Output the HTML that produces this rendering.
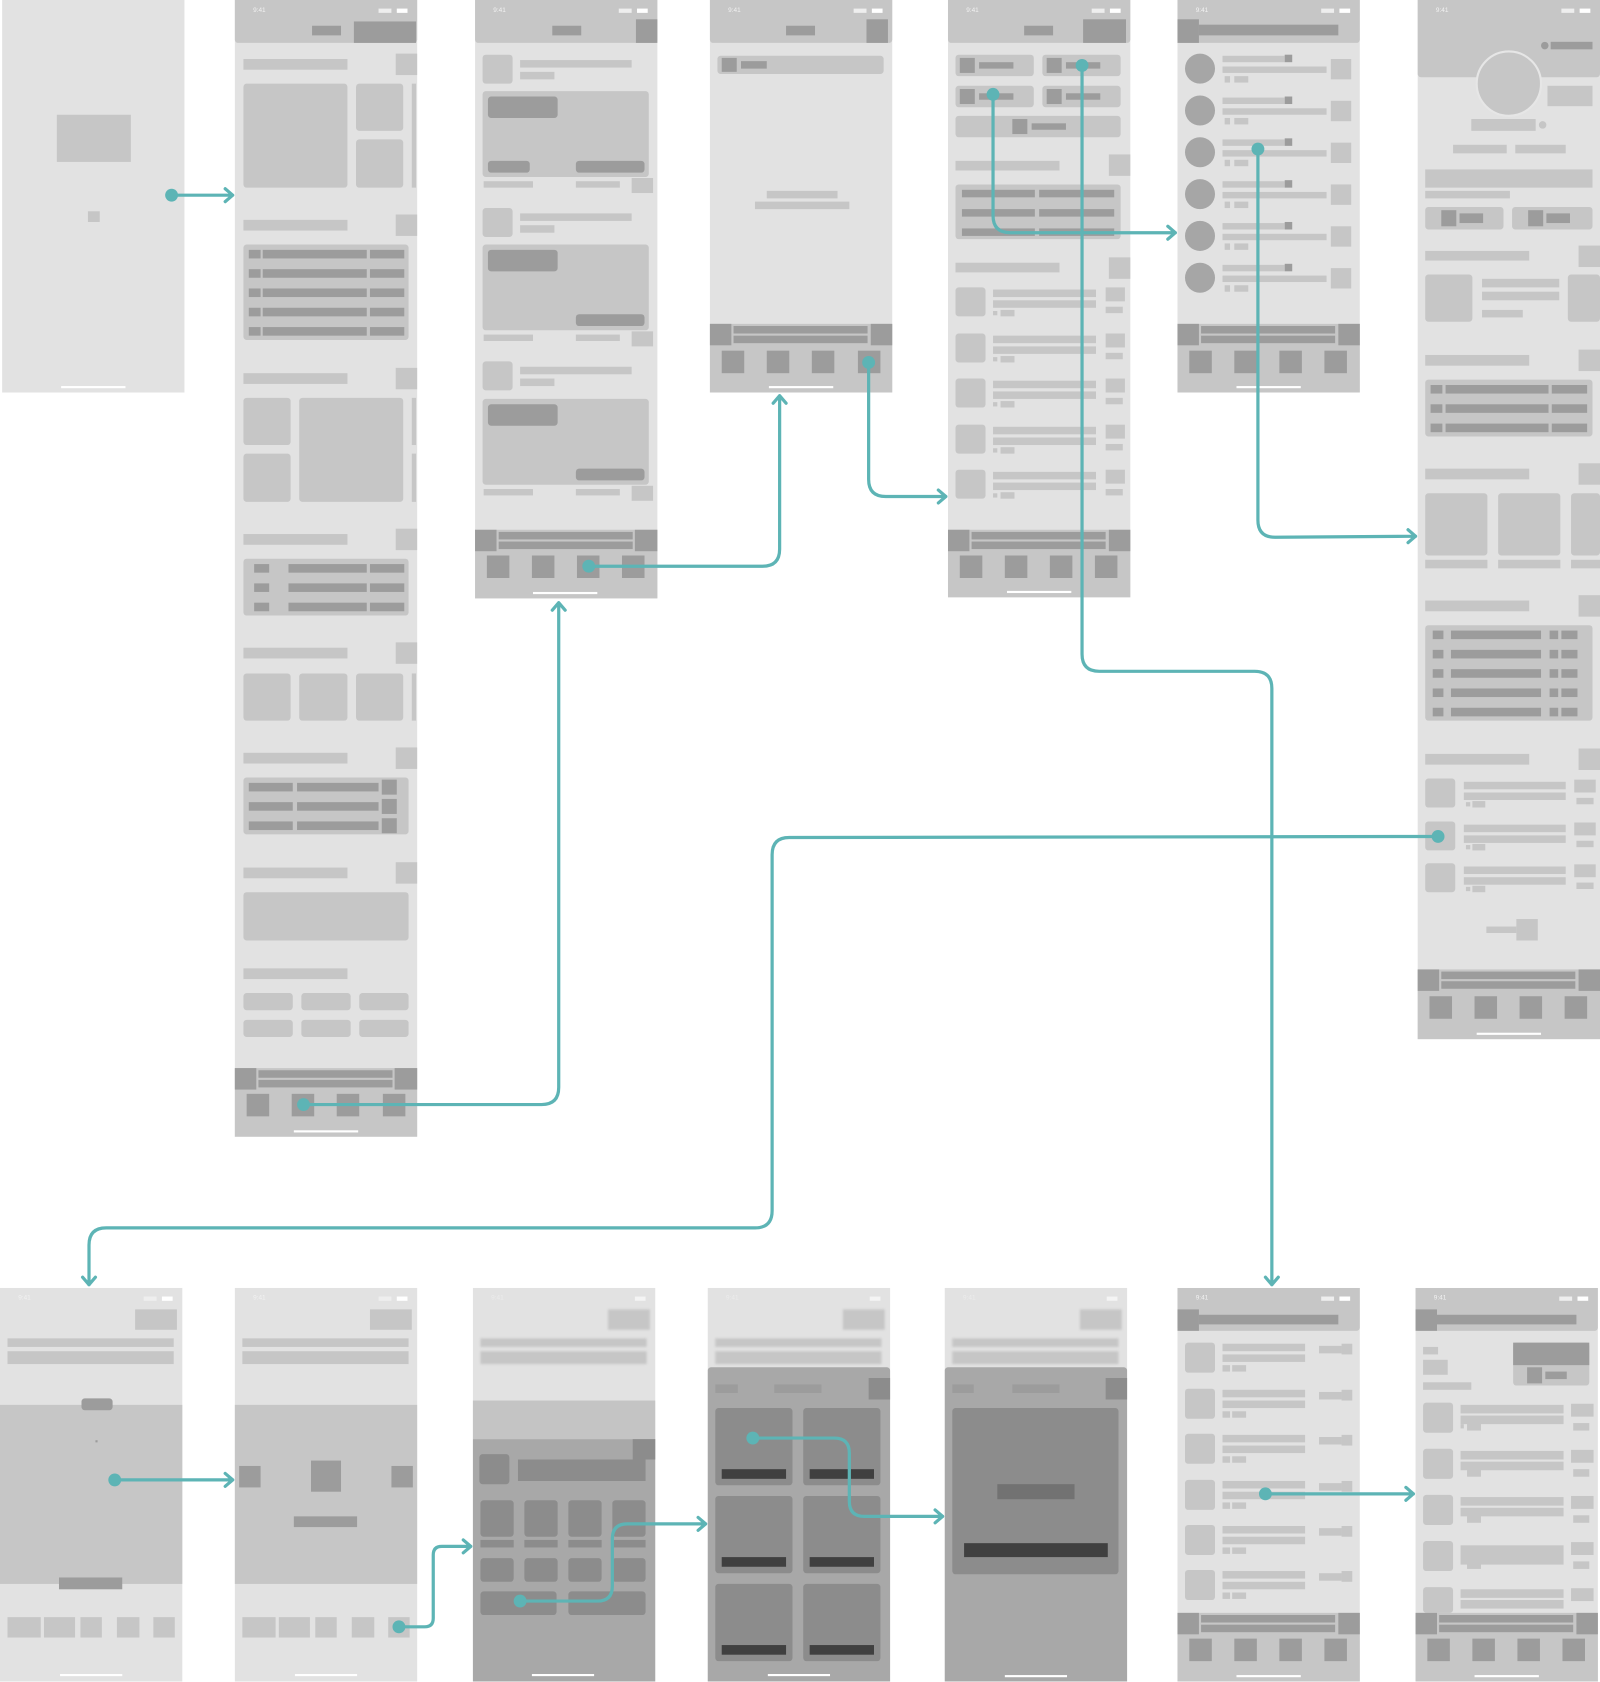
<!DOCTYPE html>
<html><head><meta charset="utf-8"><style>
html,body{margin:0;padding:0;background:#fff}
body{width:1600px;height:1682px;overflow:hidden;position:relative;font-family:"Liberation Sans",sans-serif}
#w{position:absolute;left:0;top:0;width:1492px;height:1568px;transform:scale(1.07239);transform-origin:0 0}
#w i{position:absolute;display:block;font-style:normal}
.L{background:#e2e2e2}.M{background:#c6c6c6}.D{background:#9c9c9c}.K{background:#404040}.T{background:#8c8c8c}.O{background:#a8a8a8}
.r{border-radius:3px}
.st{font-size:6px;color:#f2f2f2;line-height:8px}
.hb{background:#fff;height:2px}
</style></head><body><div id="w">

<!-- Frame 1 splash -->
<i class="L" style="left:2px;top:0;width:170px;height:366px"></i>
<i class="M" style="left:53px;top:107px;width:69px;height:44px"></i>
<i class="M" style="left:82px;top:197px;width:11px;height:10px"></i>
<i class="hb" style="left:57px;top:360px;width:60px"></i>

<!-- Frame 2 home -->
<i class="L" style="left:219px;top:0;width:170px;height:1060px"></i>
<i class="M" style="left:219px;top:0;width:170px;height:40px;border-radius:0 0 3px 3px"></i>
<i class="st" style="left:236px;top:6px">9:41</i>
<i style="left:370px;top:8px;width:10px;height:4px;background:#fff"></i><i style="left:353px;top:8px;width:12px;height:4px;background:#eee"></i>
<i class="D" style="left:291px;top:24px;width:27px;height:9px"></i>
<i class="D" style="left:330px;top:20px;width:58px;height:20px"></i>
<i class="M" style="left:227px;top:55px;width:97px;height:10px"></i><i class="M" style="left:369px;top:50px;width:20px;height:20px"></i>
<i class="M r" style="left:227px;top:78px;width:97px;height:97px"></i>
<i class="M r" style="left:332px;top:78px;width:44px;height:44px"></i>
<i class="M r" style="left:332px;top:130px;width:44px;height:45px"></i>
<i class="M" style="left:384px;top:78px;width:4px;height:97px"></i>
<i class="M" style="left:227px;top:205px;width:97px;height:10px"></i><i class="M" style="left:369px;top:200px;width:20px;height:20px"></i>
<i class="M r" style="left:227px;top:228px;width:154px;height:89px"></i>
<i class="D" style="left:232px;top:233px;width:11px;height:8px"></i><i class="D" style="left:245px;top:233px;width:97px;height:8px"></i><i class="D" style="left:345px;top:233px;width:32px;height:8px"></i>
<i class="D" style="left:232px;top:251px;width:11px;height:8px"></i><i class="D" style="left:245px;top:251px;width:97px;height:8px"></i><i class="D" style="left:345px;top:251px;width:32px;height:8px"></i>
<i class="D" style="left:232px;top:269px;width:11px;height:8px"></i><i class="D" style="left:245px;top:269px;width:97px;height:8px"></i><i class="D" style="left:345px;top:269px;width:32px;height:8px"></i>
<i class="D" style="left:232px;top:287px;width:11px;height:8px"></i><i class="D" style="left:245px;top:287px;width:97px;height:8px"></i><i class="D" style="left:345px;top:287px;width:32px;height:8px"></i>
<i class="D" style="left:232px;top:305px;width:11px;height:8px"></i><i class="D" style="left:245px;top:305px;width:97px;height:8px"></i><i class="D" style="left:345px;top:305px;width:32px;height:8px"></i>
<i class="M" style="left:227px;top:348px;width:97px;height:10px"></i><i class="M" style="left:369px;top:343px;width:20px;height:20px"></i>
<i class="M r" style="left:227px;top:371px;width:44px;height:44px"></i>
<i class="M r" style="left:227px;top:423px;width:44px;height:45px"></i>
<i class="M r" style="left:279px;top:371px;width:97px;height:97px"></i>
<i class="M" style="left:384px;top:371px;width:4px;height:44px"></i><i class="M" style="left:384px;top:423px;width:4px;height:45px"></i>
<i class="M" style="left:227px;top:498px;width:97px;height:10px"></i><i class="M" style="left:369px;top:493px;width:20px;height:20px"></i>
<i class="M r" style="left:227px;top:521px;width:154px;height:53px"></i>
<i class="D" style="left:237px;top:526px;width:14px;height:8px"></i><i class="D" style="left:269px;top:526px;width:73px;height:8px"></i><i class="D" style="left:345px;top:526px;width:32px;height:8px"></i>
<i class="D" style="left:237px;top:544px;width:14px;height:8px"></i><i class="D" style="left:269px;top:544px;width:73px;height:8px"></i><i class="D" style="left:345px;top:544px;width:32px;height:8px"></i>
<i class="D" style="left:237px;top:562px;width:14px;height:8px"></i><i class="D" style="left:269px;top:562px;width:73px;height:8px"></i><i class="D" style="left:345px;top:562px;width:32px;height:8px"></i>
<i class="M" style="left:227px;top:604px;width:97px;height:10px"></i><i class="M" style="left:369px;top:599px;width:20px;height:20px"></i>
<i class="M r" style="left:227px;top:628px;width:44px;height:44px"></i><i class="M r" style="left:279px;top:628px;width:45px;height:44px"></i><i class="M r" style="left:332px;top:628px;width:44px;height:44px"></i><i class="M" style="left:384px;top:628px;width:4px;height:44px"></i>
<i class="M" style="left:227px;top:702px;width:97px;height:10px"></i><i class="M" style="left:369px;top:697px;width:20px;height:20px"></i>
<i class="M r" style="left:227px;top:725px;width:154px;height:53px"></i>
<i class="D" style="left:232px;top:730px;width:41px;height:8px"></i><i class="D" style="left:277px;top:730px;width:76px;height:8px"></i><i class="D" style="left:356px;top:727px;width:14px;height:14px"></i>
<i class="D" style="left:232px;top:748px;width:41px;height:8px"></i><i class="D" style="left:277px;top:748px;width:76px;height:8px"></i><i class="D" style="left:356px;top:745px;width:14px;height:14px"></i>
<i class="D" style="left:232px;top:766px;width:41px;height:8px"></i><i class="D" style="left:277px;top:766px;width:76px;height:8px"></i><i class="D" style="left:356px;top:763px;width:14px;height:14px"></i>
<i class="M" style="left:227px;top:809px;width:97px;height:10px"></i><i class="M" style="left:369px;top:804px;width:20px;height:20px"></i>
<i class="M r" style="left:227px;top:832px;width:154px;height:45px"></i>
<i class="M" style="left:227px;top:903px;width:97px;height:10px"></i>
<i class="M r" style="left:227px;top:926px;width:46px;height:16px"></i><i class="M r" style="left:281px;top:926px;width:46px;height:16px"></i><i class="M r" style="left:335px;top:926px;width:46px;height:16px"></i>
<i class="M r" style="left:227px;top:951px;width:46px;height:16px"></i><i class="M r" style="left:281px;top:951px;width:46px;height:16px"></i><i class="M r" style="left:335px;top:951px;width:46px;height:16px"></i>
<i class="M" style="left:219px;top:996px;width:170px;height:64px"></i>
<i class="D" style="left:219px;top:996px;width:20px;height:20px"></i><i class="D" style="left:368px;top:996px;width:21px;height:20px"></i>
<i class="D" style="left:241px;top:998px;width:125px;height:7px"></i><i class="D" style="left:241px;top:1007px;width:125px;height:7px"></i>
<i class="D" style="left:230px;top:1020px;width:21px;height:21px"></i><i class="D" style="left:272px;top:1020px;width:21px;height:21px"></i><i class="D" style="left:314px;top:1020px;width:21px;height:21px"></i><i class="D" style="left:357px;top:1020px;width:21px;height:21px"></i>
<i class="hb" style="left:274px;top:1054px;width:60px"></i>

<!-- Frame 3 feed -->
<i class="L" style="left:443px;top:0;width:170px;height:558px"></i>
<i class="M" style="left:443px;top:0;width:170px;height:40px;border-radius:0 0 3px 3px"></i>
<i class="st" style="left:460px;top:6px">9:41</i>
<i style="left:594px;top:8px;width:10px;height:4px;background:#fff"></i><i style="left:577px;top:8px;width:12px;height:4px;background:#eee"></i>
<i class="D" style="left:515px;top:24px;width:27px;height:9px"></i><i class="D" style="left:593px;top:18px;width:20px;height:22px"></i>
<!-- card 1 -->
<i class="M r" style="left:450px;top:51px;width:28px;height:27px"></i><i class="M" style="left:485px;top:56px;width:104px;height:7px"></i><i class="M" style="left:485px;top:67px;width:32px;height:7px"></i>
<i class="M r" style="left:450px;top:85px;width:155px;height:80px"></i><i class="D r" style="left:455px;top:90px;width:65px;height:20px"></i>
<i class="D r" style="left:455px;top:150px;width:39px;height:11px"></i><i class="D r" style="left:537px;top:150px;width:64px;height:11px"></i>
<i class="M" style="left:451px;top:169px;width:46px;height:6px"></i><i class="M" style="left:537px;top:169px;width:41px;height:6px"></i><i class="M" style="left:589px;top:166px;width:20px;height:14px"></i>
<!-- card 2 -->
<i class="M r" style="left:450px;top:194px;width:28px;height:27px"></i><i class="M" style="left:485px;top:199px;width:104px;height:7px"></i><i class="M" style="left:485px;top:210px;width:32px;height:7px"></i>
<i class="M r" style="left:450px;top:228px;width:155px;height:80px"></i><i class="D r" style="left:455px;top:233px;width:65px;height:20px"></i>
<i class="D r" style="left:537px;top:293px;width:64px;height:11px"></i>
<i class="M" style="left:451px;top:312px;width:46px;height:6px"></i><i class="M" style="left:537px;top:312px;width:41px;height:6px"></i><i class="M" style="left:589px;top:309px;width:20px;height:14px"></i>
<!-- card 3 -->
<i class="M r" style="left:450px;top:337px;width:28px;height:27px"></i><i class="M" style="left:485px;top:342px;width:104px;height:7px"></i><i class="M" style="left:485px;top:353px;width:32px;height:7px"></i>
<i class="M r" style="left:450px;top:372px;width:155px;height:80px"></i><i class="D r" style="left:455px;top:377px;width:65px;height:20px"></i>
<i class="D r" style="left:537px;top:437px;width:64px;height:11px"></i>
<i class="M" style="left:451px;top:456px;width:46px;height:6px"></i><i class="M" style="left:537px;top:456px;width:41px;height:6px"></i><i class="M" style="left:589px;top:453px;width:20px;height:14px"></i>
<i class="M" style="left:443px;top:494px;width:170px;height:64px"></i>
<i class="D" style="left:443px;top:494px;width:20px;height:20px"></i><i class="D" style="left:592px;top:494px;width:21px;height:20px"></i>
<i class="D" style="left:465px;top:496px;width:125px;height:7px"></i><i class="D" style="left:465px;top:505px;width:125px;height:7px"></i>
<i class="D" style="left:454px;top:518px;width:21px;height:21px"></i><i class="D" style="left:496px;top:518px;width:21px;height:21px"></i><i class="D" style="left:538px;top:518px;width:21px;height:21px"></i><i class="D" style="left:580px;top:518px;width:21px;height:21px"></i>
<i class="hb" style="left:497px;top:552px;width:60px"></i>

<!-- Frame 4 search -->
<i class="L" style="left:662px;top:0;width:170px;height:366px"></i>
<i class="M" style="left:662px;top:0;width:170px;height:40px;border-radius:0 0 3px 3px"></i>
<i class="st" style="left:679px;top:6px">9:41</i>
<i style="left:813px;top:8px;width:10px;height:4px;background:#fff"></i><i style="left:796px;top:8px;width:12px;height:4px;background:#eee"></i>
<i class="D" style="left:733px;top:24px;width:27px;height:9px"></i><i class="D" style="left:808px;top:18px;width:20px;height:22px"></i>
<i class="M r" style="left:669px;top:52px;width:155px;height:17px"></i><i class="D" style="left:673px;top:54px;width:14px;height:13px"></i><i class="D" style="left:691px;top:57px;width:24px;height:7px"></i>
<i class="M" style="left:715px;top:178px;width:66px;height:7px"></i><i class="M" style="left:704px;top:188px;width:88px;height:7px"></i>
<i class="M" style="left:662px;top:302px;width:170px;height:64px"></i>
<i class="D" style="left:662px;top:302px;width:20px;height:20px"></i><i class="D" style="left:812px;top:302px;width:20px;height:20px"></i>
<i class="D" style="left:684px;top:304px;width:125px;height:7px"></i><i class="D" style="left:684px;top:313px;width:125px;height:7px"></i>
<i class="D" style="left:673px;top:327px;width:21px;height:21px"></i><i class="D" style="left:715px;top:327px;width:21px;height:21px"></i><i class="D" style="left:757px;top:327px;width:21px;height:21px"></i><i class="D" style="left:800px;top:327px;width:21px;height:21px"></i>
<i class="hb" style="left:717px;top:360px;width:60px"></i>

<!-- Frame 5 explore -->
<i class="L" style="left:884px;top:0;width:170px;height:557px"></i>
<i class="M" style="left:884px;top:0;width:170px;height:40px;border-radius:0 0 3px 3px"></i>
<i class="st" style="left:901px;top:6px">9:41</i>
<i style="left:1035px;top:8px;width:10px;height:4px;background:#fff"></i><i style="left:1018px;top:8px;width:12px;height:4px;background:#eee"></i>
<i class="D" style="left:955px;top:24px;width:27px;height:9px"></i><i class="D" style="left:1010px;top:18px;width:40px;height:22px"></i>
<i class="M r" style="left:891px;top:51px;width:73px;height:20px"></i><i class="D" style="left:895px;top:54px;width:14px;height:14px"></i><i class="D" style="left:913px;top:58px;width:32px;height:6px"></i>
<i class="M r" style="left:972px;top:51px;width:73px;height:20px"></i><i class="D" style="left:976px;top:54px;width:14px;height:14px"></i><i class="D" style="left:994px;top:58px;width:32px;height:6px"></i>
<i class="M r" style="left:891px;top:80px;width:73px;height:20px"></i><i class="D" style="left:895px;top:83px;width:14px;height:14px"></i><i class="D" style="left:913px;top:87px;width:32px;height:6px"></i>
<i class="M r" style="left:972px;top:80px;width:73px;height:20px"></i><i class="D" style="left:976px;top:83px;width:14px;height:14px"></i><i class="D" style="left:994px;top:87px;width:32px;height:6px"></i>
<i class="M r" style="left:891px;top:108px;width:154px;height:20px"></i><i class="D" style="left:944px;top:111px;width:14px;height:14px"></i><i class="D" style="left:962px;top:115px;width:32px;height:6px"></i>
<i class="M" style="left:891px;top:150px;width:97px;height:9px"></i><i class="M" style="left:1034px;top:144px;width:20px;height:20px"></i>
<i class="M r" style="left:891px;top:172px;width:154px;height:51px"></i>
<i class="D" style="left:897px;top:177px;width:68px;height:7px"></i><i class="D" style="left:969px;top:177px;width:70px;height:7px"></i>
<i class="D" style="left:897px;top:195px;width:68px;height:7px"></i><i class="D" style="left:969px;top:195px;width:70px;height:7px"></i>
<i class="D" style="left:897px;top:213px;width:68px;height:7px"></i><i class="D" style="left:969px;top:213px;width:70px;height:7px"></i>
<i class="M" style="left:891px;top:245px;width:97px;height:9px"></i><i class="M" style="left:1034px;top:240px;width:20px;height:20px"></i>
<i class="M r" style="left:891px;top:268px;width:28px;height:27px"></i><i class="M" style="left:926px;top:270px;width:96px;height:7px"></i><i class="M" style="left:926px;top:280px;width:96px;height:7px"></i><i class="M" style="left:926px;top:290px;width:4px;height:4px"></i><i class="M" style="left:933px;top:289px;width:13px;height:6px"></i><i class="M" style="left:1031px;top:268px;width:18px;height:13px"></i><i class="M" style="left:1031px;top:286px;width:16px;height:6px"></i>
<i class="M r" style="left:891px;top:311px;width:28px;height:27px"></i><i class="M" style="left:926px;top:313px;width:96px;height:7px"></i><i class="M" style="left:926px;top:323px;width:96px;height:7px"></i><i class="M" style="left:926px;top:333px;width:4px;height:4px"></i><i class="M" style="left:933px;top:332px;width:13px;height:6px"></i><i class="M" style="left:1031px;top:311px;width:18px;height:13px"></i><i class="M" style="left:1031px;top:329px;width:16px;height:6px"></i>
<i class="M r" style="left:891px;top:353px;width:28px;height:27px"></i><i class="M" style="left:926px;top:355px;width:96px;height:7px"></i><i class="M" style="left:926px;top:365px;width:96px;height:7px"></i><i class="M" style="left:926px;top:375px;width:4px;height:4px"></i><i class="M" style="left:933px;top:374px;width:13px;height:6px"></i><i class="M" style="left:1031px;top:353px;width:18px;height:13px"></i><i class="M" style="left:1031px;top:371px;width:16px;height:6px"></i>
<i class="M r" style="left:891px;top:396px;width:28px;height:27px"></i><i class="M" style="left:926px;top:398px;width:96px;height:7px"></i><i class="M" style="left:926px;top:408px;width:96px;height:7px"></i><i class="M" style="left:926px;top:418px;width:4px;height:4px"></i><i class="M" style="left:933px;top:417px;width:13px;height:6px"></i><i class="M" style="left:1031px;top:396px;width:18px;height:13px"></i><i class="M" style="left:1031px;top:414px;width:16px;height:6px"></i>
<i class="M r" style="left:891px;top:438px;width:28px;height:27px"></i><i class="M" style="left:926px;top:440px;width:96px;height:7px"></i><i class="M" style="left:926px;top:450px;width:96px;height:7px"></i><i class="M" style="left:926px;top:460px;width:4px;height:4px"></i><i class="M" style="left:933px;top:459px;width:13px;height:6px"></i><i class="M" style="left:1031px;top:438px;width:18px;height:13px"></i><i class="M" style="left:1031px;top:456px;width:16px;height:6px"></i>
<i class="M" style="left:884px;top:494px;width:170px;height:63px"></i>
<i class="D" style="left:884px;top:494px;width:20px;height:20px"></i><i class="D" style="left:1034px;top:494px;width:20px;height:20px"></i>
<i class="D" style="left:906px;top:496px;width:125px;height:7px"></i><i class="D" style="left:906px;top:505px;width:125px;height:7px"></i>
<i class="D" style="left:895px;top:518px;width:21px;height:21px"></i><i class="D" style="left:937px;top:518px;width:21px;height:21px"></i><i class="D" style="left:979px;top:518px;width:21px;height:21px"></i><i class="D" style="left:1021px;top:518px;width:21px;height:21px"></i>
<i class="hb" style="left:939px;top:551px;width:60px"></i>

<!-- Frame 6 users -->
<i class="L" style="left:1098px;top:0;width:170px;height:366px"></i>
<i class="M" style="left:1098px;top:0;width:170px;height:40px;border-radius:0 0 3px 3px"></i>
<i class="st" style="left:1115px;top:6px">9:41</i>
<i style="left:1249px;top:8px;width:10px;height:4px;background:#fff"></i><i style="left:1232px;top:8px;width:12px;height:4px;background:#eee"></i>
<i class="D" style="left:1098px;top:18px;width:20px;height:22px"></i><i class="D" style="left:1118px;top:23px;width:130px;height:10px"></i>
<i class="D" style="left:1105px;top:50px;width:28px;height:28px;border-radius:50%;background:#a6a6a6"></i>
<i class="D" style="left:1105px;top:89px;width:28px;height:28px;border-radius:50%;background:#a6a6a6"></i>
<i class="D" style="left:1105px;top:128px;width:28px;height:28px;border-radius:50%;background:#a6a6a6"></i>
<i class="D" style="left:1105px;top:167px;width:28px;height:28px;border-radius:50%;background:#a6a6a6"></i>
<i class="D" style="left:1105px;top:206px;width:28px;height:28px;border-radius:50%;background:#a6a6a6"></i>
<i class="D" style="left:1105px;top:245px;width:28px;height:28px;border-radius:50%;background:#a6a6a6"></i>
<i class="M" style="left:1140px;top:52px;width:58px;height:6px"></i><i class="D" style="left:1198px;top:51px;width:7px;height:7px"></i><i class="M" style="left:1140px;top:62px;width:97px;height:6px"></i><i class="M" style="left:1142px;top:71px;width:5px;height:6px"></i><i class="M" style="left:1151px;top:71px;width:13px;height:6px"></i><i class="M" style="left:1241px;top:55px;width:19px;height:19px"></i>
<i class="M" style="left:1140px;top:91px;width:58px;height:6px"></i><i class="D" style="left:1198px;top:90px;width:7px;height:7px"></i><i class="M" style="left:1140px;top:101px;width:97px;height:6px"></i><i class="M" style="left:1142px;top:110px;width:5px;height:6px"></i><i class="M" style="left:1151px;top:110px;width:13px;height:6px"></i><i class="M" style="left:1241px;top:94px;width:19px;height:19px"></i>
<i class="M" style="left:1140px;top:130px;width:58px;height:6px"></i><i class="D" style="left:1198px;top:129px;width:7px;height:7px"></i><i class="M" style="left:1140px;top:140px;width:97px;height:6px"></i><i class="M" style="left:1142px;top:149px;width:5px;height:6px"></i><i class="M" style="left:1151px;top:149px;width:13px;height:6px"></i><i class="M" style="left:1241px;top:133px;width:19px;height:19px"></i>
<i class="M" style="left:1140px;top:169px;width:58px;height:6px"></i><i class="D" style="left:1198px;top:168px;width:7px;height:7px"></i><i class="M" style="left:1140px;top:179px;width:97px;height:6px"></i><i class="M" style="left:1142px;top:188px;width:5px;height:6px"></i><i class="M" style="left:1151px;top:188px;width:13px;height:6px"></i><i class="M" style="left:1241px;top:172px;width:19px;height:19px"></i>
<i class="M" style="left:1140px;top:208px;width:58px;height:6px"></i><i class="D" style="left:1198px;top:207px;width:7px;height:7px"></i><i class="M" style="left:1140px;top:218px;width:97px;height:6px"></i><i class="M" style="left:1142px;top:227px;width:5px;height:6px"></i><i class="M" style="left:1151px;top:227px;width:13px;height:6px"></i><i class="M" style="left:1241px;top:211px;width:19px;height:19px"></i>
<i class="M" style="left:1140px;top:247px;width:58px;height:6px"></i><i class="D" style="left:1198px;top:246px;width:7px;height:7px"></i><i class="M" style="left:1140px;top:257px;width:97px;height:6px"></i><i class="M" style="left:1142px;top:266px;width:5px;height:6px"></i><i class="M" style="left:1151px;top:266px;width:13px;height:6px"></i><i class="M" style="left:1241px;top:250px;width:19px;height:19px"></i>
<i class="M" style="left:1098px;top:302px;width:170px;height:64px"></i>
<i class="D" style="left:1098px;top:302px;width:20px;height:20px"></i><i class="D" style="left:1248px;top:302px;width:20px;height:20px"></i>
<i class="D" style="left:1120px;top:304px;width:125px;height:7px"></i><i class="D" style="left:1120px;top:313px;width:125px;height:7px"></i>
<i class="D" style="left:1109px;top:327px;width:21px;height:21px"></i><i class="D" style="left:1151px;top:327px;width:21px;height:21px"></i><i class="D" style="left:1193px;top:327px;width:21px;height:21px"></i><i class="D" style="left:1235px;top:327px;width:21px;height:21px"></i>
<i class="hb" style="left:1153px;top:360px;width:60px"></i>

<!-- Frame 7 profile -->
<i class="L" style="left:1322px;top:0;width:170px;height:969px"></i>
<i class="M" style="left:1322px;top:0;width:170px;height:72px;border-radius:0 0 3px 3px"></i>
<i class="st" style="left:1339px;top:6px">9:41</i>
<i style="left:1473px;top:8px;width:10px;height:4px;background:#fff"></i><i style="left:1456px;top:8px;width:12px;height:4px;background:#eee"></i>
<i class="D" style="left:1437px;top:39px;width:7px;height:7px;border-radius:50%"></i><i class="D" style="left:1446px;top:39px;width:39px;height:7px"></i>
<i style="left:1376px;top:47px;width:58px;height:58px;border-radius:50%;background:#c6c6c6;border:2px solid #e6e6e6"></i>
<i class="M" style="left:1443px;top:80px;width:42px;height:19px"></i>
<i class="M" style="left:1372px;top:111px;width:60px;height:11px"></i><i class="M" style="left:1435px;top:113px;width:7px;height:7px;border-radius:50%"></i>
<i class="M" style="left:1355px;top:135px;width:50px;height:8px"></i><i class="M" style="left:1413px;top:135px;width:47px;height:8px"></i>
<i class="M" style="left:1329px;top:158px;width:156px;height:17px"></i><i class="M" style="left:1329px;top:178px;width:79px;height:7px"></i>
<i class="M r" style="left:1329px;top:193px;width:73px;height:21px"></i><i class="D" style="left:1344px;top:196px;width:14px;height:15px"></i><i class="D" style="left:1361px;top:199px;width:22px;height:9px"></i>
<i class="M r" style="left:1410px;top:193px;width:75px;height:21px"></i><i class="D" style="left:1425px;top:196px;width:14px;height:15px"></i><i class="D" style="left:1442px;top:199px;width:22px;height:9px"></i>
<i class="M" style="left:1329px;top:234px;width:97px;height:9px"></i><i class="M" style="left:1472px;top:229px;width:20px;height:20px"></i>
<i class="M r" style="left:1329px;top:256px;width:44px;height:44px"></i><i class="M" style="left:1382px;top:260px;width:72px;height:8px"></i><i class="M" style="left:1382px;top:272px;width:72px;height:8px"></i><i class="M" style="left:1382px;top:289px;width:38px;height:7px"></i><i class="M r" style="left:1462px;top:256px;width:30px;height:44px"></i>
<i class="M" style="left:1329px;top:331px;width:97px;height:10px"></i><i class="M" style="left:1472px;top:326px;width:20px;height:20px"></i>
<i class="M r" style="left:1329px;top:354px;width:156px;height:53px"></i>
<i class="D" style="left:1334px;top:359px;width:11px;height:8px"></i><i class="D" style="left:1348px;top:359px;width:96px;height:8px"></i><i class="D" style="left:1447px;top:359px;width:33px;height:8px"></i>
<i class="D" style="left:1334px;top:377px;width:11px;height:8px"></i><i class="D" style="left:1348px;top:377px;width:96px;height:8px"></i><i class="D" style="left:1447px;top:377px;width:33px;height:8px"></i>
<i class="D" style="left:1334px;top:395px;width:11px;height:8px"></i><i class="D" style="left:1348px;top:395px;width:96px;height:8px"></i><i class="D" style="left:1447px;top:395px;width:33px;height:8px"></i>
<i class="M" style="left:1329px;top:437px;width:97px;height:10px"></i><i class="M" style="left:1472px;top:432px;width:20px;height:20px"></i>
<i class="M r" style="left:1329px;top:460px;width:58px;height:58px"></i><i class="M r" style="left:1397px;top:460px;width:58px;height:58px"></i><i class="M r" style="left:1465px;top:460px;width:27px;height:58px"></i>
<i class="M" style="left:1329px;top:522px;width:58px;height:8px"></i><i class="M" style="left:1397px;top:522px;width:58px;height:8px"></i><i class="M" style="left:1465px;top:522px;width:27px;height:8px"></i>
<i class="M" style="left:1329px;top:560px;width:97px;height:10px"></i><i class="M" style="left:1472px;top:555px;width:20px;height:20px"></i>
<i class="M r" style="left:1329px;top:583px;width:156px;height:89px"></i>
<i class="D" style="left:1336px;top:588px;width:10px;height:8px"></i><i class="D" style="left:1353px;top:588px;width:84px;height:8px"></i><i class="D" style="left:1445px;top:588px;width:8px;height:8px"></i><i class="D" style="left:1456px;top:588px;width:15px;height:8px"></i>
<i class="D" style="left:1336px;top:606px;width:10px;height:8px"></i><i class="D" style="left:1353px;top:606px;width:84px;height:8px"></i><i class="D" style="left:1445px;top:606px;width:8px;height:8px"></i><i class="D" style="left:1456px;top:606px;width:15px;height:8px"></i>
<i class="D" style="left:1336px;top:624px;width:10px;height:8px"></i><i class="D" style="left:1353px;top:624px;width:84px;height:8px"></i><i class="D" style="left:1445px;top:624px;width:8px;height:8px"></i><i class="D" style="left:1456px;top:624px;width:15px;height:8px"></i>
<i class="D" style="left:1336px;top:642px;width:10px;height:8px"></i><i class="D" style="left:1353px;top:642px;width:84px;height:8px"></i><i class="D" style="left:1445px;top:642px;width:8px;height:8px"></i><i class="D" style="left:1456px;top:642px;width:15px;height:8px"></i>
<i class="D" style="left:1336px;top:660px;width:10px;height:8px"></i><i class="D" style="left:1353px;top:660px;width:84px;height:8px"></i><i class="D" style="left:1445px;top:660px;width:8px;height:8px"></i><i class="D" style="left:1456px;top:660px;width:15px;height:8px"></i>
<i class="M" style="left:1329px;top:703px;width:97px;height:10px"></i><i class="M" style="left:1472px;top:698px;width:20px;height:20px"></i>
<i class="M r" style="left:1329px;top:726px;width:28px;height:27px"></i><i class="M" style="left:1365px;top:729px;width:95px;height:7px"></i><i class="M" style="left:1365px;top:739px;width:95px;height:7px"></i><i class="M" style="left:1367px;top:748px;width:4px;height:4px"></i><i class="M" style="left:1373px;top:747px;width:12px;height:6px"></i><i class="M" style="left:1468px;top:727px;width:20px;height:12px"></i><i class="M" style="left:1470px;top:744px;width:16px;height:6px"></i>
<i class="M r" style="left:1329px;top:766px;width:28px;height:27px"></i><i class="M" style="left:1365px;top:769px;width:95px;height:7px"></i><i class="M" style="left:1365px;top:779px;width:95px;height:7px"></i><i class="M" style="left:1367px;top:788px;width:4px;height:4px"></i><i class="M" style="left:1373px;top:787px;width:12px;height:6px"></i><i class="M" style="left:1468px;top:767px;width:20px;height:12px"></i><i class="M" style="left:1470px;top:784px;width:16px;height:6px"></i>
<i class="M r" style="left:1329px;top:805px;width:28px;height:27px"></i><i class="M" style="left:1365px;top:808px;width:95px;height:7px"></i><i class="M" style="left:1365px;top:818px;width:95px;height:7px"></i><i class="M" style="left:1367px;top:827px;width:4px;height:4px"></i><i class="M" style="left:1373px;top:826px;width:12px;height:6px"></i><i class="M" style="left:1468px;top:806px;width:20px;height:12px"></i><i class="M" style="left:1470px;top:823px;width:16px;height:6px"></i>
<i class="M" style="left:1386px;top:864px;width:28px;height:6px"></i><i class="M" style="left:1414px;top:857px;width:20px;height:20px"></i>
<i class="M" style="left:1322px;top:904px;width:170px;height:65px"></i>
<i class="D" style="left:1322px;top:904px;width:20px;height:20px"></i><i class="D" style="left:1472px;top:904px;width:20px;height:20px"></i>
<i class="D" style="left:1344px;top:906px;width:125px;height:7px"></i><i class="D" style="left:1344px;top:915px;width:125px;height:7px"></i>
<i class="D" style="left:1333px;top:929px;width:21px;height:21px"></i><i class="D" style="left:1375px;top:929px;width:21px;height:21px"></i><i class="D" style="left:1417px;top:929px;width:21px;height:21px"></i><i class="D" style="left:1459px;top:929px;width:21px;height:21px"></i>
<i class="hb" style="left:1377px;top:963px;width:60px"></i>

<!-- Row 2 Frame A -->
<i class="L" style="left:0;top:1201px;width:170px;height:367px"></i>
<i class="st" style="left:17px;top:1207px">9:41</i><i style="left:151px;top:1209px;width:10px;height:4px;background:#fff"></i><i style="left:134px;top:1209px;width:12px;height:4px;background:#eee"></i>
<i class="M" style="left:126px;top:1221px;width:39px;height:19px"></i>
<i class="M" style="left:7px;top:1248px;width:155px;height:8px"></i><i class="M" style="left:7px;top:1260px;width:155px;height:12px"></i>
<i class="M" style="left:0;top:1310px;width:170px;height:167px"></i>
<i class="D r" style="left:76px;top:1304px;width:29px;height:11px"></i>
<i class="D" style="left:89px;top:1343px;width:2px;height:2px"></i>
<i class="D" style="left:55px;top:1471px;width:59px;height:11px"></i>
<i class="M" style="left:7px;top:1508px;width:31px;height:19px"></i><i class="M" style="left:41px;top:1508px;width:29px;height:19px"></i><i class="M" style="left:75px;top:1508px;width:20px;height:19px"></i><i class="M" style="left:109px;top:1508px;width:21px;height:19px"></i><i class="M" style="left:143px;top:1508px;width:20px;height:19px"></i>
<i class="hb" style="left:56px;top:1561px;width:58px"></i>

<!-- Frame B -->
<i class="L" style="left:219px;top:1201px;width:170px;height:367px"></i>
<i class="st" style="left:236px;top:1207px">9:41</i><i style="left:370px;top:1209px;width:10px;height:4px;background:#fff"></i><i style="left:353px;top:1209px;width:12px;height:4px;background:#eee"></i>
<i class="M" style="left:345px;top:1221px;width:39px;height:19px"></i>
<i class="M" style="left:226px;top:1248px;width:155px;height:8px"></i><i class="M" style="left:226px;top:1260px;width:155px;height:12px"></i>
<i class="M" style="left:219px;top:1310px;width:170px;height:167px"></i>
<i class="D" style="left:223px;top:1367px;width:20px;height:20px"></i><i class="D" style="left:365px;top:1367px;width:20px;height:20px"></i>
<i class="D" style="left:290px;top:1362px;width:28px;height:29px"></i><i class="D" style="left:274px;top:1414px;width:59px;height:10px"></i>
<i class="M" style="left:226px;top:1508px;width:31px;height:19px"></i><i class="M" style="left:260px;top:1508px;width:29px;height:19px"></i><i class="M" style="left:294px;top:1508px;width:20px;height:19px"></i><i class="M" style="left:328px;top:1508px;width:21px;height:19px"></i><i class="M" style="left:362px;top:1508px;width:20px;height:19px"></i>
<i class="hb" style="left:275px;top:1561px;width:58px"></i>

<!-- Frame C -->
<i class="L" style="left:441px;top:1201px;width:170px;height:367px"></i>
<i class="st" style="left:458px;top:1207px;color:#ececec">9:41</i><i style="left:592px;top:1209px;width:10px;height:4px;background:#f4f4f4"></i>
<i class="M" style="left:567px;top:1221px;width:39px;height:19px;filter:blur(1px)"></i>
<i class="M" style="left:448px;top:1248px;width:155px;height:8px;filter:blur(1px)"></i><i class="M" style="left:448px;top:1260px;width:155px;height:12px;filter:blur(1px)"></i>
<i style="left:441px;top:1306px;width:170px;height:36px;background:#c4c4c4"></i>
<i class="O" style="left:441px;top:1342px;width:170px;height:226px"></i>
<i class="T r" style="left:447px;top:1356px;width:28px;height:28px"></i><i class="T" style="left:483px;top:1361px;width:119px;height:20px"></i><i class="T" style="left:590px;top:1342px;width:21px;height:19px"></i>
<i class="T r" style="left:448px;top:1399px;width:31px;height:34px"></i><i class="T r" style="left:489px;top:1399px;width:31px;height:34px"></i><i class="T r" style="left:530px;top:1399px;width:31px;height:34px"></i><i class="T r" style="left:571px;top:1399px;width:31px;height:34px"></i>
<i class="T" style="left:448px;top:1436px;width:31px;height:7px"></i><i class="T" style="left:489px;top:1436px;width:31px;height:7px"></i><i class="T" style="left:530px;top:1436px;width:31px;height:7px"></i><i class="T" style="left:571px;top:1436px;width:31px;height:7px"></i>
<i class="T r" style="left:448px;top:1453px;width:31px;height:22px"></i><i class="T r" style="left:489px;top:1453px;width:31px;height:22px"></i><i class="T r" style="left:530px;top:1453px;width:31px;height:22px"></i><i class="T r" style="left:571px;top:1453px;width:31px;height:22px"></i>
<i class="T r" style="left:448px;top:1484px;width:71px;height:22px"></i><i class="T r" style="left:530px;top:1484px;width:72px;height:22px"></i>
<i class="hb" style="left:496px;top:1561px;width:58px"></i>

<!-- Frame D -->
<i class="L" style="left:660px;top:1201px;width:170px;height:367px"></i>
<i class="st" style="left:677px;top:1207px;color:#ececec">9:41</i><i style="left:811px;top:1209px;width:10px;height:4px;background:#f4f4f4"></i>
<i class="M" style="left:786px;top:1221px;width:39px;height:19px;filter:blur(1px)"></i>
<i class="M" style="left:667px;top:1248px;width:155px;height:8px;filter:blur(1px)"></i><i class="M" style="left:667px;top:1260px;width:155px;height:12px;filter:blur(1px)"></i>
<i class="O" style="left:660px;top:1275px;width:170px;height:293px;border-radius:3px 3px 0 0"></i>
<i class="D" style="left:667px;top:1291px;width:21px;height:8px"></i><i class="D" style="left:722px;top:1291px;width:44px;height:8px"></i><i class="T" style="left:810px;top:1285px;width:20px;height:20px"></i>
<i class="T r" style="left:667px;top:1313px;width:72px;height:72px"></i><i class="T r" style="left:749px;top:1313px;width:72px;height:72px"></i>
<i class="T r" style="left:667px;top:1395px;width:72px;height:72px"></i><i class="T r" style="left:749px;top:1395px;width:72px;height:72px"></i>
<i class="T r" style="left:667px;top:1477px;width:72px;height:72px"></i><i class="T r" style="left:749px;top:1477px;width:72px;height:72px"></i>
<i class="K" style="left:673px;top:1370px;width:60px;height:9px"></i><i class="K" style="left:755px;top:1370px;width:60px;height:9px"></i>
<i class="K" style="left:673px;top:1452px;width:60px;height:9px"></i><i class="K" style="left:755px;top:1452px;width:60px;height:9px"></i>
<i class="K" style="left:673px;top:1534px;width:60px;height:9px"></i><i class="K" style="left:755px;top:1534px;width:60px;height:9px"></i>
<i class="hb" style="left:716px;top:1561px;width:58px"></i>

<!-- Frame E -->
<i class="L" style="left:881px;top:1201px;width:170px;height:367px"></i>
<i class="st" style="left:898px;top:1207px;color:#ececec">9:41</i><i style="left:1032px;top:1209px;width:10px;height:4px;background:#f4f4f4"></i>
<i class="M" style="left:1007px;top:1221px;width:39px;height:19px;filter:blur(1px)"></i>
<i class="M" style="left:888px;top:1248px;width:155px;height:8px;filter:blur(1px)"></i><i class="M" style="left:888px;top:1260px;width:155px;height:12px;filter:blur(1px)"></i>
<i class="O" style="left:881px;top:1275px;width:170px;height:293px;border-radius:3px 3px 0 0"></i>
<i class="D" style="left:888px;top:1291px;width:20px;height:8px"></i><i class="D" style="left:944px;top:1291px;width:44px;height:8px"></i><i class="T" style="left:1031px;top:1285px;width:20px;height:20px"></i>
<i class="T r" style="left:888px;top:1313px;width:155px;height:155px"></i>
<i style="left:930px;top:1384px;width:72px;height:14px;background:#727272"></i>
<i class="K" style="left:899px;top:1439px;width:134px;height:13px"></i>
<i class="hb" style="left:937px;top:1562px;width:58px"></i>

<!-- Frame F -->
<i class="L" style="left:1098px;top:1201px;width:170px;height:367px"></i>
<i class="M" style="left:1098px;top:1201px;width:170px;height:40px;border-radius:0 0 3px 3px"></i>
<i class="st" style="left:1115px;top:1207px">9:41</i><i style="left:1249px;top:1209px;width:10px;height:4px;background:#fff"></i><i style="left:1232px;top:1209px;width:12px;height:4px;background:#eee"></i>
<i class="D" style="left:1098px;top:1221px;width:20px;height:20px"></i><i class="D" style="left:1118px;top:1226px;width:130px;height:9px"></i>
<i class="M r" style="left:1105px;top:1252px;width:28px;height:28px"></i><i class="M" style="left:1140px;top:1253px;width:77px;height:7px"></i><i class="M" style="left:1140px;top:1263px;width:77px;height:7px"></i><i class="M" style="left:1140px;top:1273px;width:7px;height:6px"></i><i class="M" style="left:1149px;top:1273px;width:13px;height:6px"></i><i class="M" style="left:1230px;top:1255px;width:21px;height:7px"></i><i class="M" style="left:1251px;top:1253px;width:10px;height:10px"></i>
<i class="M r" style="left:1105px;top:1295px;width:28px;height:28px"></i><i class="M" style="left:1140px;top:1296px;width:77px;height:7px"></i><i class="M" style="left:1140px;top:1306px;width:77px;height:7px"></i><i class="M" style="left:1140px;top:1316px;width:7px;height:6px"></i><i class="M" style="left:1149px;top:1316px;width:13px;height:6px"></i><i class="M" style="left:1230px;top:1298px;width:21px;height:7px"></i><i class="M" style="left:1251px;top:1296px;width:10px;height:10px"></i>
<i class="M r" style="left:1105px;top:1337px;width:28px;height:28px"></i><i class="M" style="left:1140px;top:1338px;width:77px;height:7px"></i><i class="M" style="left:1140px;top:1348px;width:77px;height:7px"></i><i class="M" style="left:1140px;top:1358px;width:7px;height:6px"></i><i class="M" style="left:1149px;top:1358px;width:13px;height:6px"></i><i class="M" style="left:1230px;top:1340px;width:21px;height:7px"></i><i class="M" style="left:1251px;top:1338px;width:10px;height:10px"></i>
<i class="M r" style="left:1105px;top:1380px;width:28px;height:28px"></i><i class="M" style="left:1140px;top:1381px;width:77px;height:7px"></i><i class="M" style="left:1140px;top:1391px;width:77px;height:7px"></i><i class="M" style="left:1140px;top:1401px;width:7px;height:6px"></i><i class="M" style="left:1149px;top:1401px;width:13px;height:6px"></i><i class="M" style="left:1230px;top:1383px;width:21px;height:7px"></i><i class="M" style="left:1251px;top:1381px;width:10px;height:10px"></i>
<i class="M r" style="left:1105px;top:1422px;width:28px;height:28px"></i><i class="M" style="left:1140px;top:1423px;width:77px;height:7px"></i><i class="M" style="left:1140px;top:1433px;width:77px;height:7px"></i><i class="M" style="left:1140px;top:1443px;width:7px;height:6px"></i><i class="M" style="left:1149px;top:1443px;width:13px;height:6px"></i><i class="M" style="left:1230px;top:1425px;width:21px;height:7px"></i><i class="M" style="left:1251px;top:1423px;width:10px;height:10px"></i>
<i class="M r" style="left:1105px;top:1464px;width:28px;height:28px"></i><i class="M" style="left:1140px;top:1465px;width:77px;height:7px"></i><i class="M" style="left:1140px;top:1475px;width:77px;height:7px"></i><i class="M" style="left:1140px;top:1485px;width:7px;height:6px"></i><i class="M" style="left:1149px;top:1485px;width:13px;height:6px"></i><i class="M" style="left:1230px;top:1467px;width:21px;height:7px"></i><i class="M" style="left:1251px;top:1465px;width:10px;height:10px"></i>
<i class="M" style="left:1098px;top:1504px;width:170px;height:64px"></i>
<i class="D" style="left:1098px;top:1504px;width:20px;height:20px"></i><i class="D" style="left:1248px;top:1504px;width:20px;height:20px"></i>
<i class="D" style="left:1120px;top:1506px;width:125px;height:7px"></i><i class="D" style="left:1120px;top:1515px;width:125px;height:7px"></i>
<i class="D" style="left:1109px;top:1528px;width:21px;height:21px"></i><i class="D" style="left:1151px;top:1528px;width:21px;height:21px"></i><i class="D" style="left:1193px;top:1528px;width:21px;height:21px"></i><i class="D" style="left:1235px;top:1528px;width:21px;height:21px"></i>
<i class="hb" style="left:1153px;top:1562px;width:60px"></i>

<!-- Frame G -->
<i class="L" style="left:1320px;top:1201px;width:170px;height:367px"></i>
<i class="M" style="left:1320px;top:1201px;width:170px;height:40px;border-radius:0 0 3px 3px"></i>
<i class="st" style="left:1337px;top:1207px">9:41</i><i style="left:1471px;top:1209px;width:10px;height:4px;background:#fff"></i><i style="left:1454px;top:1209px;width:12px;height:4px;background:#eee"></i>
<i class="D" style="left:1320px;top:1221px;width:20px;height:20px"></i><i class="D" style="left:1340px;top:1226px;width:130px;height:9px"></i>
<i class="M" style="left:1327px;top:1256px;width:14px;height:7px"></i><i class="M" style="left:1327px;top:1268px;width:23px;height:14px"></i><i class="M" style="left:1327px;top:1289px;width:45px;height:7px"></i>
<i class="M r" style="left:1411px;top:1252px;width:71px;height:40px"></i><i class="D" style="left:1411px;top:1252px;width:71px;height:21px"></i>
<i class="D" style="left:1424px;top:1275px;width:14px;height:15px"></i><i class="D" style="left:1441px;top:1279px;width:20px;height:7px"></i>
<i class="M r" style="left:1327px;top:1308px;width:28px;height:28px"></i><i class="M" style="left:1362px;top:1310px;width:96px;height:8px"></i><i class="M" style="left:1362px;top:1320px;width:96px;height:8px"></i><i class="M" style="left:1362px;top:1328px;width:3px;height:4px"></i><i class="M" style="left:1368px;top:1327px;width:13px;height:7px"></i><i class="M" style="left:1465px;top:1309px;width:21px;height:12px"></i><i class="M" style="left:1467px;top:1327px;width:15px;height:7px"></i>
<i class="M r" style="left:1327px;top:1351px;width:28px;height:28px"></i><i class="M" style="left:1362px;top:1353px;width:96px;height:8px"></i><i class="M" style="left:1362px;top:1363px;width:96px;height:8px"></i><i class="M" style="left:1368px;top:1370px;width:13px;height:7px"></i><i class="M" style="left:1465px;top:1352px;width:21px;height:12px"></i><i class="M" style="left:1467px;top:1370px;width:15px;height:7px"></i>
<i class="M r" style="left:1327px;top:1394px;width:28px;height:28px"></i><i class="M" style="left:1362px;top:1396px;width:96px;height:8px"></i><i class="M" style="left:1362px;top:1406px;width:96px;height:8px"></i><i class="M" style="left:1368px;top:1413px;width:13px;height:7px"></i><i class="M" style="left:1465px;top:1395px;width:21px;height:12px"></i><i class="M" style="left:1467px;top:1413px;width:15px;height:7px"></i>
<i class="M r" style="left:1327px;top:1437px;width:28px;height:28px"></i><i class="M" style="left:1362px;top:1441px;width:96px;height:18px"></i><i class="M" style="left:1368px;top:1456px;width:13px;height:7px"></i><i class="M" style="left:1465px;top:1438px;width:21px;height:12px"></i><i class="M" style="left:1467px;top:1456px;width:15px;height:7px"></i>
<i class="M r" style="left:1327px;top:1480px;width:28px;height:24px"></i><i class="M" style="left:1362px;top:1482px;width:96px;height:8px"></i><i class="M" style="left:1362px;top:1492px;width:96px;height:8px"></i><i class="M" style="left:1465px;top:1481px;width:21px;height:12px"></i>
<i class="M" style="left:1320px;top:1504px;width:170px;height:64px"></i>
<i class="D" style="left:1320px;top:1504px;width:20px;height:20px"></i><i class="D" style="left:1470px;top:1504px;width:20px;height:20px"></i>
<i class="D" style="left:1342px;top:1506px;width:125px;height:7px"></i><i class="D" style="left:1342px;top:1515px;width:125px;height:7px"></i>
<i class="D" style="left:1331px;top:1528px;width:21px;height:21px"></i><i class="D" style="left:1373px;top:1528px;width:21px;height:21px"></i><i class="D" style="left:1415px;top:1528px;width:21px;height:21px"></i><i class="D" style="left:1457px;top:1528px;width:21px;height:21px"></i>
<i class="hb" style="left:1375px;top:1562px;width:60px"></i>

<!-- connectors -->
<svg style="position:absolute;left:0;top:0" width="1492" height="1568" viewBox="0 0 1492 1568">
<g fill="none" stroke="#5db4b5" stroke-width="3" stroke-linecap="round" stroke-linejoin="round">
<path d="M160 182H217M210 176l7 6-7 6"/>
<path d="M283 1030H505Q521 1030 521 1014V562M515 569l6-7 6 7"/>
<path d="M549 528H711Q727 528 727 512V369M721 376l6-7 6 7"/>
<path d="M810 338V447Q810 463 826 463H882M875 457l7 6-7 6"/>
<path d="M926 88V201Q926 217 942 217H1096M1089 211l7 6-7 6"/>
<path d="M1009 61V610Q1009 626 1025 626H1170Q1186 626 1186 642V1198M1180 1191l6 7 6-7"/>
<path d="M1173 139V485Q1173 501 1189 501L1320 500M1313 494l7 6-7 6"/>
<path d="M1341 780L736 781Q720 781 720 797V1129Q720 1145 704 1145H99Q83 1145 83 1161V1198M77 1191l6 7 6-7"/>
<path d="M107 1380H217M210 1374l7 6-7 6"/>
<path d="M372 1517H396Q404 1517 404 1509V1450Q404 1442 412 1442H439M432 1436l7 6-7 6"/>
<path d="M485 1493H557Q571 1493 571 1479V1435Q571 1421 585 1421H658M651 1415l7 6-7 6"/>
<path d="M702 1341H778Q792 1341 792 1355V1400Q792 1414 806 1414H879M872 1408l7 6-7 6"/>
<path d="M1180 1393H1318M1311 1387l7 6-7 6"/>
</g>
<g fill="#5db4b5">
<circle cx="160" cy="182" r="6"/><circle cx="283" cy="1030" r="6"/><circle cx="549" cy="528" r="6"/><circle cx="810" cy="338" r="6"/><circle cx="926" cy="88" r="6"/><circle cx="1009" cy="61" r="6"/><circle cx="1173" cy="139" r="6"/><circle cx="1341" cy="780" r="6"/><circle cx="107" cy="1380" r="6"/><circle cx="372" cy="1517" r="6"/><circle cx="485" cy="1493" r="6"/><circle cx="702" cy="1341" r="6"/><circle cx="1180" cy="1393" r="6"/>
</g>
</svg>
</div></body></html>
